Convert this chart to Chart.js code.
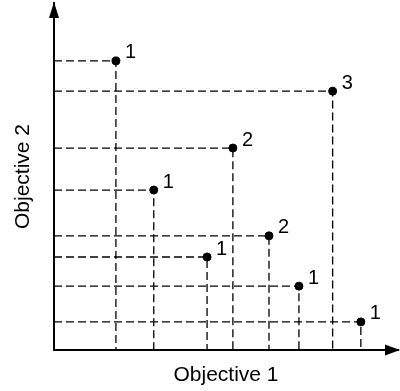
<!DOCTYPE html>
<html>
<head>
<meta charset="utf-8">
<script src="https://cdn.jsdelivr.net/npm/chart.js@4/dist/chart.umd.min.js"></script>
<style>
  body { margin: 0; background: #fff; }
  canvas { display: block; }
</style>
</head>
<body>
<canvas id="chart" width="400" height="391"></canvas>
<script>
// solutions in objective space, with their front rank
const obj1 = [18, 29, 44.5, 52, 62.5, 71.2, 81, 89.2];
const obj2 = [83.3, 46.1, 26.8, 58.2, 32.9, 18.4, 74.6, 8.1];
const ranks = ['1', '1', '1', '2', '2', '1', '3', '1'];

const ctx = document.getElementById('chart').getContext('2d');
const font = "'Liberation Sans', Arial, Helvetica, sans-serif";

// dashed projection of each point onto both axes
const guideSets = obj1.map((x, i) => ({
    type: 'line',
    data: [{x: 0, y: obj2[i]}, {x: x, y: obj2[i]}, {x: x, y: 0}],
    borderColor: '#000',
    borderWidth: 1.3,
    borderDash: [8, 4],
    pointRadius: 0,
    fill: false,
    tension: 0,
    clip: false
}));

const rankLabels = {
    id: 'rankLabels',
    afterDatasetsDraw(chart) {
        const c = chart.ctx;
        const meta = chart.getDatasetMeta(0);
        c.save();
        c.fillStyle = '#000';
        c.font = '20px ' + font;
        c.textAlign = 'left';
        c.textBaseline = 'middle';
        meta.data.forEach((pt, i) => {
            c.fillText(ranks[i], pt.x + 9, pt.y - 8);
        });
        c.restore();
    }
};

const arrows = {
    id: 'arrows',
    afterDraw(chart) {
        const a = chart.chartArea;
        const c = chart.ctx;
        c.save();
        c.fillStyle = '#000';
        // up arrow on objective 2
        c.beginPath();
        c.moveTo(a.left, a.top - 1);
        c.lineTo(a.left - 5, a.top + 15);
        c.lineTo(a.left + 5, a.top + 15);
        c.closePath();
        c.fill();
        // right arrow on objective 1
        c.beginPath();
        c.moveTo(a.right + 2, a.bottom);
        c.lineTo(a.right - 13, a.bottom - 5.5);
        c.lineTo(a.right - 13, a.bottom + 5.5);
        c.closePath();
        c.fill();
        c.restore();
    }
};

new Chart(ctx, {
    type: 'scatter',
    data: {
        datasets: [{
            data: obj1.map((x, i) => ({x: x, y: obj2[i]})),
            backgroundColor: '#000',
            borderColor: '#000',
            pointRadius: 4,
            pointHoverRadius: 4
        }].concat(guideSets)
    },
    options: {
        responsive: false,
        animation: false,
        devicePixelRatio: 1,
        layout: { autoPadding: false, padding: { top: 3, right: 2, bottom: 0, left: 0 } },
        plugins: {
            legend: { display: false },
            tooltip: { enabled: false }
        },
        scales: {
            x: {
                type: 'linear',
                min: 0,
                max: 100,
                grid: { display: false },
                border: { display: true, color: '#000', width: 2 },
                ticks: { display: false },
                title: {
                    display: true,
                    text: 'Objective 1',
                    color: '#000',
                    font: { family: font, size: 21 },
                    padding: { top: 0, bottom: 3 }
                },
                afterFit(scale) { scale.height = 41; }
            },
            y: {
                type: 'linear',
                min: 0,
                max: 100,
                grid: { display: false },
                border: { display: true, color: '#000', width: 2 },
                ticks: { display: false },
                title: {
                    display: true,
                    text: 'Objective 2',
                    color: '#000',
                    font: { family: font, size: 21 },
                    padding: { top: 11, bottom: 0 }
                },
                afterFit(scale) { scale.width = 54; }
            }
        }
    },
    plugins: [rankLabels, arrows]
});
</script>
</body>
</html>
